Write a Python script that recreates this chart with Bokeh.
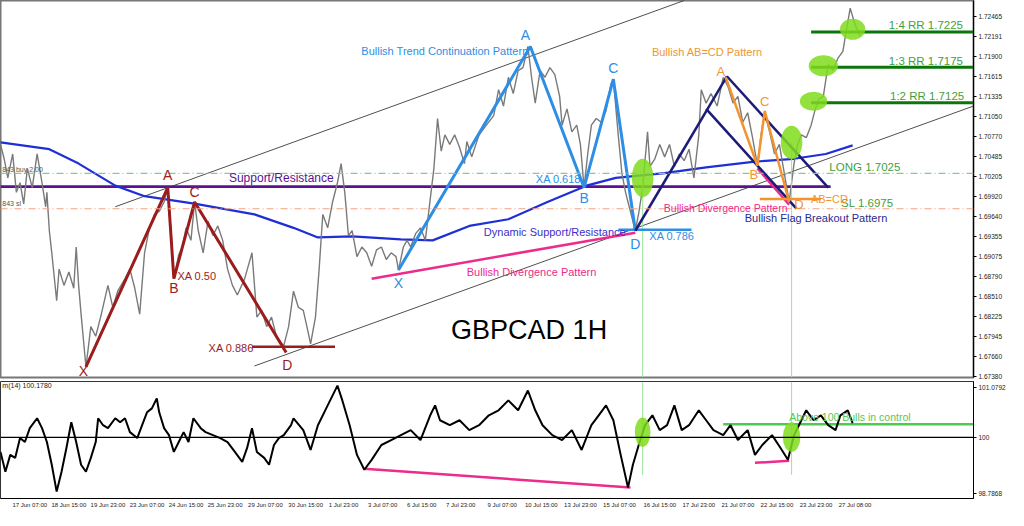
from bokeh.plotting import figure
from bokeh.layouts import column
from bokeh.models import Label, FixedTicker, PrintfTickFormatter, Range1d, Span
from bokeh.embed import file_html
from bokeh.resources import INLINE

# ---------------- data (bar index = hourly bar number) ----------------
price_bars = [0, 3, 6, 10, 13, 16, 19, 22, 26, 30, 34, 37, 38, 40, 42, 46, 48, 52, 56, 60,
              62, 64, 66, 70, 74, 78, 82, 88, 92, 96, 102, 106, 110, 114, 118, 122, 126, 130, 134, 137,
              140, 142, 146, 149, 152, 156, 159, 162, 166, 170, 174, 178, 182, 186, 190, 194, 200, 206, 210, 214,
              218, 222, 226, 232, 236, 240, 244, 248, 251, 254, 258, 261, 264, 268, 272, 276, 279, 282, 285, 288,
              292, 296, 300, 304, 308, 312, 316, 320, 324, 326, 330, 333, 336, 340, 344, 348, 352, 355, 358, 361,
              364, 368, 372, 376, 380, 382, 386, 392, 398, 404, 408, 412, 416, 420, 424, 428, 432, 435, 438, 442,
              446, 450, 454, 458, 460, 464, 468, 472, 475, 478, 481, 484, 488, 492, 496, 500, 502, 506, 509, 512,
              515, 518, 520, 523, 526, 530, 532, 536, 540, 544, 548, 552, 556, 560, 564, 568, 572, 574, 578, 582,
              587, 592, 596, 600, 604, 608, 612, 616, 620, 623, 626, 630, 634, 638, 642, 646, 650, 653, 656, 660,
              664, 667, 670, 674, 676, 678, 682, 686, 690, 693, 696, 700, 704]
price_close = [1.70660, 1.70457, 1.70186, 1.70525, 1.69982, 1.70118, 1.69819, 1.70321, 1.70050, 1.70525,
               1.70118, 1.69778, 1.69982, 1.69439, 1.69127, 1.68449, 1.68896, 1.68666, 1.68856, 1.68625,
               1.69209, 1.68666, 1.68259, 1.67512, 1.68082, 1.67946, 1.68218, 1.68666, 1.68354, 1.68584,
               1.68761, 1.68896, 1.68625, 1.68259, 1.69127, 1.69480, 1.69670, 1.69711, 1.69846, 1.70050,
               1.69344, 1.68761, 1.69100, 1.69209, 1.69480, 1.69303, 1.69846, 1.69439, 1.69127, 1.69575,
               1.69371, 1.69507, 1.69303, 1.68896, 1.68666, 1.68530, 1.68761, 1.69127, 1.68218, 1.68313,
               1.68082, 1.68218, 1.67946, 1.67811, 1.68082, 1.68584, 1.68354, 1.68313, 1.68082, 1.67838,
               1.68218, 1.68896, 1.69670, 1.69480, 1.69846, 1.70118, 1.70389, 1.69982, 1.69371, 1.69439,
               1.69073, 1.69209, 1.69127, 1.68937, 1.69168, 1.69209, 1.69032, 1.69127, 1.69073, 1.68883,
               1.69209, 1.69303, 1.69209, 1.69398, 1.69480, 1.69303, 1.69887, 1.70321, 1.71027, 1.70566,
               1.70796, 1.70660, 1.70796, 1.70620, 1.70389, 1.70701, 1.70484, 1.70796, 1.70932, 1.71068,
               1.71434, 1.71203, 1.71610, 1.71380, 1.71705, 1.71746, 1.72045, 1.71610, 1.71244, 1.71705,
               1.71610, 1.71746, 1.71651, 1.71339, 1.70932, 1.71163, 1.70837, 1.70932, 1.70660, 1.70050,
               1.70525, 1.70932, 1.71027, 1.70973, 1.71135, 1.71515, 1.71583, 1.70796, 1.70253, 1.69982,
               1.69778, 1.69575, 1.69439, 1.69711, 1.70050, 1.70837, 1.70348, 1.70457, 1.70660, 1.70484,
               1.70660, 1.70348, 1.70525, 1.70430, 1.70593, 1.70186, 1.70796, 1.71434, 1.71244, 1.71380,
               1.71203, 1.71610, 1.71475, 1.71244, 1.71339, 1.70973, 1.71108, 1.70755, 1.70362, 1.70796,
               1.71108, 1.70837, 1.70525, 1.70660, 1.70253, 1.69846, 1.70389, 1.70660, 1.70796, 1.70755,
               1.70932, 1.71135, 1.71298, 1.71339, 1.71570, 1.71787, 1.71705, 1.71882, 1.71977, 1.72289,
               1.72587, 1.72357, 1.72194]

ma_bars = [0, 40, 64, 94, 118, 160, 208, 240, 260, 288, 328, 354, 384, 416, 448, 480, 504, 544, 578, 618, 650, 676, 698]
ma_values = [1.70688, 1.70593, 1.70389, 1.70077, 1.69928, 1.69819, 1.69670, 1.69480, 1.69344, 1.69358,
             1.69317, 1.69303, 1.69507, 1.69602, 1.69846, 1.70077, 1.70186, 1.70253, 1.70335, 1.70416,
             1.70457, 1.70525, 1.70647]

mom_bars = [0, 4, 8, 12, 16, 20, 24, 30, 34, 38, 42, 46, 50, 54, 58, 62, 66, 70, 74, 78,
            80, 84, 88, 94, 98, 102, 106, 112, 116, 120, 124, 128, 130, 134, 138, 142, 146, 150, 154, 158,
            164, 168, 174, 180, 186, 192, 198, 202, 206, 210, 216, 220, 224, 228, 232, 238, 240, 248, 254, 260,
            268, 276, 280, 286, 292, 298, 304, 312, 320, 328, 336, 344, 352, 356, 360, 368, 376, 384, 392, 400,
            408, 416, 424, 432, 438, 444, 452, 460, 468, 476, 484, 490, 496, 502, 508, 514, 518, 524, 528, 534,
            540, 546, 552, 558, 564, 572, 578, 584, 592, 598, 604, 612, 618, 624, 632, 640, 645, 650, 654, 660,
            666, 672, 678, 684, 688, 694, 698]
mom_values = [99.687, 99.259, 99.623, 99.558, 99.987, 99.901, 100.201, 100.415, 100.201, 99.901,
              99.409, 98.830, 99.259, 99.773, 100.330, 99.901, 99.409, 99.259, 99.558, 99.901,
              100.415, 100.265, 100.201, 100.415, 100.330, 100.415, 100.115, 99.987, 100.265, 100.544,
              100.629, 100.844, 100.544, 100.201, 100.051, 99.687, 99.901, 100.115, 99.901, 100.415,
              100.201, 100.115, 100.051, 99.987, 99.901, 99.687, 99.473, 99.773, 100.201, 99.687,
              99.558, 99.409, 99.837, 99.987, 100.051, 100.265, 100.415, 100.158, 99.730, 100.265,
              100.694, 101.122, 100.801, 100.265, 99.623, 99.301, 99.516, 99.837, 99.944, 100.051,
              100.158, 99.944, 100.479, 100.694, 100.372, 100.265, 100.372, 100.158, 100.265, 100.479,
              100.587, 100.801, 100.587, 101.015, 100.587, 100.265, 100.051, 99.944, 100.158, 99.730,
              100.265, 100.479, 100.694, 100.372, 99.623, 98.916, 99.409, 99.944, 100.265, 100.479,
              100.158, 100.265, 100.694, 100.158, 100.265, 100.587, 100.372, 100.158, 100.051, 100.265,
              99.944, 100.158, 99.623, 99.837, 100.051, 99.730, 99.516, 100.051, 100.265, 100.587,
              100.372, 100.479, 100.265, 100.158, 100.479, 100.587, 100.308]

# harmonic pattern points (X, A, B, C, D)
red_bars = [70, 137, 142, 159, 234]
red_prices = [1.67512, 1.70050, 1.68761, 1.69846, 1.67716]
blue_bars = [326, 434, 478, 502, 520]
blue_prices = [1.68883, 1.72045, 1.70050, 1.71583, 1.69439]
orange_bars = [594, 620, 626, 646]
orange_prices = [1.71610, 1.70362, 1.71135, 1.69846]

# flag lines (start bar, start price, end bar, end price)
flag_x0 = [520, 595, 578]
flag_y0 = [1.69439, 1.71624, 1.71163]
flag_x1 = [595, 678, 652]
flag_y1 = [1.71624, 1.70050, 1.69751]

# trend channel
channel_x0 = [94, 208]
channel_y0 = [1.69778, 1.67526]
channel_x1 = [560, 797]
channel_y1 = [1.72696, 1.71203]

# divergence lines
div_price_x0 = [304, 620]
div_price_y0 = [1.68761, 1.70321]
div_price_x1 = [520, 646]
div_price_y1 = [1.69412, 1.69806]
div_mom_x0 = [298, 618]
div_mom_y0 = [99.323, 99.451]
div_mom_x1 = [516, 646]
div_mom_y1 = [98.916, 99.494]

support_level = 1.70063
long_level = 1.7025
sl_level = 1.6975
rr_levels = [1.7125, 1.7175, 1.7225]
rr_labels = ["1:2 RR 1.7125", "1:3 RR 1.7175", "1:4 RR 1.7225"]
red_xa886 = 1.67797
blue_xa786 = 1.69453
abcd_level = 1.69887
bulls_level = 100.287
last_price = 1.72191

highlight_bars = [526, 648, 666, 674, 698]
highlight_prices = [1.70186, 1.70688, 1.71271, 1.71773, 1.72289]
highlight_mom_bars = [526, 648]
highlight_mom_values = [100.115, 100.008]

price_ticks = [1.67380, 1.67660, 1.67945, 1.68225, 1.68510, 1.68790, 1.69075, 1.69355, 1.69640,
               1.69920, 1.70205, 1.70485, 1.70770, 1.71050, 1.71335, 1.71615, 1.71900, 1.72191, 1.72465]
mom_ticks = [98.7868, 100, 101.0792]
time_bars = [10, 42, 74, 106, 138, 170, 203, 236, 267, 299, 331, 363, 397, 429, 461, 493, 526, 558, 590, 622, 654, 686]
time_labels = ["17 Jun 07:00", "18 Jun 15:00", "19 Jun 23:00", "23 Jun 07:00", "24 Jun 15:00", "25 Jun 23:00",
               "29 Jun 07:00", "30 Jun 15:00", "1 Jul 23:00", "3 Jul 07:00", "6 Jul 15:00", "7 Jul 23:00",
               "9 Jul 07:00", "10 Jul 15:00", "13 Jul 23:00", "15 Jul 07:00", "16 Jul 15:00", "17 Jul 23:00",
               "21 Jul 07:00", "22 Jul 15:00", "23 Jul 23:00", "27 Jul 08:00"]

# ---------------- styles ----------------
FONT = "Liberation Sans"
AXFONT = "Liberation Sans"
RED = "#9b1c1c"
BLUE = "#2e8ee6"
NAVY = "#1c1c78"
ORANGE = "#f29530"
PINK = "#ec2b8c"
GREEN_TXT = "#3f9f3f"
W = 1008
RB = 34

X_END = 797
xr = Range1d(0, X_END)

p = figure(width=W, height=380, x_range=xr, y_range=Range1d(1.67363, 1.72696),
           output_backend="svg", toolbar_location=None, x_axis_location=None,
           y_axis_location="right", min_border_left=0, min_border_right=RB,
           min_border_top=0, min_border_bottom=3, background_fill_color="white",
           border_fill_color="white", outline_line_color="#777777", outline_line_width=2)
p.xgrid.grid_line_color = None
p.ygrid.grid_line_color = None

def style_y(ax, ticks, fmt):
    ax.ticker = FixedTicker(ticks=ticks)
    ax.formatter = PrintfTickFormatter(format=fmt)
    ax.major_label_text_font_size = "6.5px"
    ax.major_label_text_font = AXFONT
    ax.major_label_text_color = "#222222"
    ax.axis_line_color = "black"
    ax.major_tick_line_color = "black"
    ax.major_tick_out = 3
    ax.major_tick_in = 0
    ax.minor_tick_line_color = None
    ax.major_label_standoff = 2

style_y(p.yaxis[0], price_ticks, "%.5f")

# channel
p.segment(channel_x0, channel_y0, channel_x1, channel_y1, line_color="#222222", line_width=0.8)

# levels
p.add_layout(Span(location=long_level, dimension="width", line_color="#8cc88c", line_width=1.2, line_dash="7 3 1 3"))
p.add_layout(Span(location=sl_level, dimension="width", line_color="#f5a383", line_width=1.2, line_dash="7 3 1 3"))
p.line([0, 680], [support_level, support_level], line_color="#5a1390", line_width=2.6)

# moving average
p.line(ma_bars, ma_values, line_color="#1f2fd6", line_width=2.2)

# price
p.line(price_bars, price_close, line_color="#7a7a7a", line_width=1.4)

# vertical markers
p.segment([highlight_bars[0], highlight_bars[1]], [highlight_prices[0], highlight_prices[1]],
          [highlight_bars[0], highlight_bars[1]], [1.67363, 1.67363], line_color="#9be39b", line_width=1)

# RR levels
for lv in rr_levels:
    p.line([664, X_END], [lv, lv], line_color="#0b760b", line_width=3)

# red pattern
p.line(red_bars, red_prices, line_color=RED, line_width=3)
p.line([206, 274], [red_xa886, red_xa886], line_color=RED, line_width=2.5)

# blue pattern
p.line(blue_bars, blue_prices, line_color=BLUE, line_width=3)
p.line([506, 566], [blue_xa786, blue_xa786], line_color=BLUE, line_width=2.5)

# divergence on price
p.segment(div_price_x0, div_price_y0, div_price_x1, div_price_y1, line_color=PINK, line_width=2.5)

# flag
p.segment(flag_x0, flag_y0, flag_x1, flag_y1, line_color=NAVY, line_width=2.5)

# orange ABCD
p.line(orange_bars, orange_prices, line_color=ORANGE, line_width=2.5)
p.line([622, 672], [abcd_level, abcd_level], line_color=ORANGE, line_width=2.5)

# highlights
p.ellipse(highlight_bars, highlight_prices, width=[17.6, 17.6, 22.4, 24, 20.8],
          height=[0.00543, 0.00475, 0.00271, 0.00299, 0.00299],
          fill_color="#7fdc1c", fill_alpha=0.85, line_color=None)

def txt(fig, x, y, s, color, size="11px", align="center", baseline="middle", font=FONT, style="normal"):
    fig.add_layout(Label(x=x, y=y, text=s, text_color=color, text_font_size=size, text_align=align,
                         text_baseline=baseline, text_font=font, text_font_style=style))

for lv, s, xb in zip(rr_levels, rr_labels, [759, 758, 758]):
    txt(p, xb, lv + 0.00093, s, GREEN_TXT, "11.5px")
txt(p, 708, 1.70335, "LONG 1.7025", GREEN_TXT, "11.5px")
txt(p, 710, 1.69833, "SL 1.6975", GREEN_TXT, "11.5px")
txt(p, 679, 1.69887, "AB=CD", ORANGE, "11px")
txt(p, 668, 1.69616, "Bullish Flag Breakout Pattern", "#2a2a8c", "11px")
txt(p, 594, 1.69765, "Bullish Divergence Pattern", PINK, "10.5px")
txt(p, 654, 1.69806, "D", ORANGE, "13px")
txt(p, 579, 1.71961, "Bullish AB=CD Pattern", ORANGE, "11px")
txt(p, 590, 1.71692, "A", ORANGE, "13px")
txt(p, 617, 1.70240, "B", ORANGE, "13px")
txt(p, 626, 1.71271, "C", ORANGE, "13px")
txt(p, 430, 1.72207, "A", BLUE, "14px")
txt(p, 502, 1.71746, "C", BLUE, "14px")
txt(p, 478, 1.69901, "B", BLUE, "14px")
txt(p, 520, 1.69249, "D", BLUE, "14px")
txt(p, 326, 1.68693, "X", BLUE, "14px")
txt(p, 457, 1.70172, "XA 0.618", BLUE, "11px")
txt(p, 550, 1.69358, "XA 0.786", BLUE, "11px")
txt(p, 364, 1.71976, "Bullish Trend Continuation Pattern", BLUE, "11px")
txt(p, 454, 1.69426, "Dynamic Support/Resistance", "#3b2fc9", "11px")
txt(p, 230, 1.70186, "Support/Resistance", "#5a1390", "12px")
txt(p, 435, 1.68856, "Bullish Divergence Pattern", PINK, "11px")
txt(p, 137, 1.70226, "A", RED, "14px")
txt(p, 142, 1.68625, "B", RED, "14px")
txt(p, 159, 1.69982, "C", RED, "14px")
txt(p, 235, 1.67539, "D", RED, "14px")
txt(p, 68, 1.67450, "X", RED, "14px")
txt(p, 161, 1.68801, "XA 0.50", RED, "11px")
txt(p, 189, 1.67784, "XA 0.886", RED, "11px")
txt(p, 433, 1.68042, "GBPCAD 1H", "black", "27px")
txt(p, 1.5, 1.70308, "843 buy 2.00", "#555555", "7px", align="left", font=AXFONT)
txt(p, 1.5, 1.69819, "843 sl", "#555555", "7px", align="left", font=AXFONT)
p.add_layout(Label(x=X_END, y=last_price, x_offset=2, text="1.72191", text_color="white",
                   background_fill_color="black", text_font_size="6.5px", text_font=AXFONT,
                   text_baseline="middle", text_align="left"))

# ---------------- indicator panel ----------------
q = figure(width=W, height=130, x_range=xr, y_range=Range1d(98.68, 101.21),
           output_backend="svg", toolbar_location=None, y_axis_location="right",
           min_border_left=0, min_border_right=RB, min_border_top=1, min_border_bottom=0,
           background_fill_color="white", border_fill_color="white",
           outline_line_color="#333333", outline_line_width=1)
q.xgrid.grid_line_color = None
q.ygrid.grid_line_color = None
style_y(q.yaxis[0], mom_ticks, "%.4f")
q.yaxis[0].major_label_overrides = {100: "100"}

xa = q.xaxis[0]
label_pos = [b + 14 for b in time_bars]
xa.ticker = FixedTicker(ticks=label_pos)
xa.major_label_overrides = {pos: lab for pos, lab in zip(label_pos, time_labels)}
xa.major_label_text_font_size = "6px"
xa.major_label_text_font = AXFONT
xa.major_label_text_color = "#222222"
xa.major_tick_out = 0
xa.major_tick_in = 0
xa.minor_tick_line_color = None
xa.axis_line_color = "black"
xa.major_label_standoff = 3

q.add_layout(Span(location=100, dimension="width", line_color="black", line_width=1.3))
q.line([592, X_END], [bulls_level, bulls_level], line_color="#4ccc4c", line_width=2.6)
q.segment(highlight_mom_bars, [101.21, 101.21], highlight_mom_bars, [99.19, 99.19],
          line_color="#9be39b", line_width=1)
q.segment(div_mom_x0, div_mom_y0, div_mom_x1, div_mom_y1, line_color=PINK, line_width=2.5)
q.line(mom_bars, mom_values, line_color="black", line_width=2)
q.ellipse(highlight_mom_bars, highlight_mom_values, width=[12.8, 14.4], height=[0.64, 0.64],
          fill_color="#7fdc1c", fill_alpha=0.85, line_color=None)
txt(q, 646, 100.437, "Above 100 Bulls in control", "#55c855", "10.5px", align="left")
txt(q, 1.5, 101.122, "m(14) 100.1780", "#222222", "7px", align="left", font=AXFONT)
q.add_layout(Label(x=X_END, y=100, x_offset=2, text="100", text_color="white",
                   background_fill_color="black", text_font_size="6.5px", text_font=AXFONT,
                   text_baseline="middle", text_align="left"))

layout = column(p, q, spacing=0)
open("out.html", "w").write(file_html(layout, INLINE))
